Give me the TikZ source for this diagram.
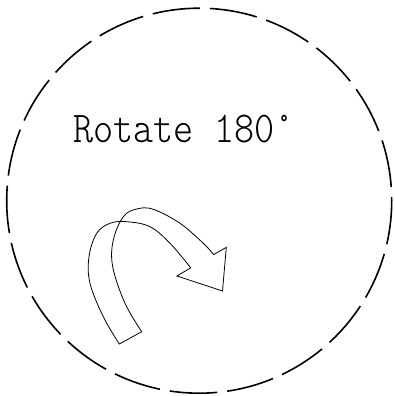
\documentclass[tikz,border=0pt]{standalone}
\usepackage{fontspec}
\newfontfamily\labelfont[FakeStretch=0.87]{Latin Modern Mono Light}
\begin{document}
\begin{tikzpicture}[x=1pt,y=-1pt,
  ring/.style={line width=1.6pt, dash pattern=on 47.6pt off 10pt, dash phase=43.9pt},
  ribbon/.style={line width=0.8pt, line join=miter},
  lbl/.style={font=\labelfont\fontsize{44}{44}\selectfont, inner sep=0pt, anchor=base}]
\useasboundingbox (0,0) rectangle (395,396);
\draw[ring] (199.2,200.7) circle[radius=192.5pt];
\node[lbl] (title) at (184,142) {Rotate 180°};
\draw[ribbon]
  plot[smooth, tension=0.6] coordinates {(119.3,344) (103.3,316.7) (90,283.3) (89,256.7) (96.7,233.3) (110,223.3) (126.7,221.7) (150,226.7) (170,243.3) (190.7,267.8)}
  -- (177,276) -- (222.5,291) -- (226.3,247.3) -- (213.7,254.6)
  -- plot[smooth, tension=0.6] coordinates {(213.7,254.6) (203.3,243.3) (180,223.3) (153.3,209.3) (136.7,209) (123.3,216.7) (113.3,240) (112.7,266.7) (125,303.3) (141.7,331.7)}
  -- cycle;
\end{tikzpicture}
\end{document}
